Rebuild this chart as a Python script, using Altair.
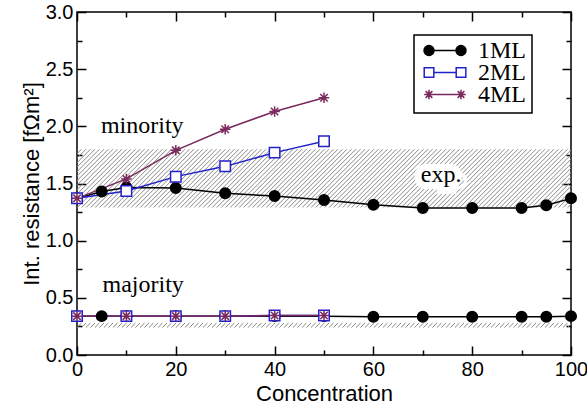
import altair as alt
import numpy as np
import pandas as pd

# ---------------- data ----------------
series_names = ["1ML", "2ML", "4ML"]

conc_1ml = [0, 5, 10, 20, 30, 40, 50, 60, 70, 80, 90, 95, 100]
minority_1ml = [1.37, 1.43, 1.465, 1.46, 1.415, 1.39, 1.355, 1.315, 1.285, 1.285, 1.285, 1.31, 1.37]
majority_1ml = [0.34, 0.34, 0.34, 0.34, 0.34, 0.34, 0.34, 0.335, 0.335, 0.335, 0.335, 0.335, 0.34]

conc_2ml = [0, 10, 20, 30, 40, 50]
minority_2ml = [1.37, 1.435, 1.56, 1.65, 1.77, 1.87]
majority_2ml = [0.34, 0.34, 0.34, 0.34, 0.345, 0.345]

conc_4ml = [0, 10, 20, 30, 40, 50]
minority_4ml = [1.37, 1.54, 1.79, 1.975, 2.13, 2.25]
majority_4ml = [0.34, 0.34, 0.34, 0.34, 0.345, 0.345]

# experimental ranges (hatched bands)
exp_band_names = ["minority", "majority"]
exp_band_low = [1.29, 0.24]
exp_band_high = [1.80, 0.28]

# annotations
ann_text = ["minority", "majority"]
ann_x = [13.2, 13.4]
ann_y = [2.0, 0.61]
exp_text = ["exp."]
exp_x = [73.7]
exp_y = [1.57]

x_major = [0, 20, 40, 60, 80, 100]
x_minor = [10, 30, 50, 70, 90]
y_major = [0.0, 0.5, 1.0, 1.5, 2.0, 2.5, 3.0]
y_minor = [0.25, 0.75, 1.25, 1.75, 2.25, 2.75]

# ---------------- styles ----------------
SANS = "Liberation Sans"
SERIF = "Liberation Serif"
line_colors = ["#000000", "#2222cc", "#7a2a5e"]
fill_colors = ["#000000", "#ffffff", "#7a2a5e"]
STAR = "M-1,0L1,0M0,-1L0,1M-0.71,-0.71L0.71,0.71M-0.71,0.71L0.71,-0.71"
W, H = 494, 343
MAJ, MIN = 9, 5
HATCH_STEP_PX = 4.5

# ---------------- tables ----------------
rows = []
for name, conc, mino, majo in [
    ("1ML", conc_1ml, minority_1ml, majority_1ml),
    ("2ML", conc_2ml, minority_2ml, majority_2ml),
    ("4ML", conc_4ml, minority_4ml, majority_4ml),
]:
    for c, v in zip(conc, mino):
        rows.append({"series": name, "spin": "minority", "conc": c, "R": v})
    for c, v in zip(conc, majo):
        rows.append({"series": name, "spin": "majority", "conc": c, "R": v})
df = pd.DataFrame(rows)

# hatch texture (45 degree lines clipped to the plot) built from band limits
px_x = W / 100.0
px_y = H / 3.0
hrows = []
for b, lo, hi in zip(exp_band_names, exp_band_low, exp_band_high):
    dx = (hi - lo) * px_y / px_x
    step = HATCH_STEP_PX / px_x
    for s in np.arange(-dx, 100 + step, step):
        hrows.append({"band": b, "x0": s, "x1": s + dx, "y0": lo, "y1": hi})
hatch_df = pd.DataFrame(hrows)

ann_df = pd.DataFrame({"text": ann_text, "x": ann_x, "y": ann_y})
exp_df = pd.DataFrame({"text": exp_text, "x": exp_x, "y": exp_y})

xscale = alt.Scale(domain=[0, 100], nice=False, zero=False)
yscale = alt.Scale(domain=[0, 3], nice=False, zero=False)

base_axis = dict(grid=False, domain=False, tickColor="black", tickWidth=1.5,
                 labelFont=SANS, labelFontSize=20, labelColor="black",
                 titleFont=SANS, titleFontSize=22, titleFontWeight="normal", titleColor="black",
                 labelOverlap=False, labelFlush=False)


def tick_axis(orient, values, size):
    return alt.Axis(orient=orient, values=values, labels=False, title=None,
                    tickSize=size, offset=-size, **base_axis)


x_bottom = alt.Axis(orient="bottom", values=x_major, format="d", tickSize=MAJ, offset=-MAJ,
                    labelPadding=4, title="Concentration", titlePadding=4, **base_axis)
y_left = alt.Axis(orient="left", values=y_major, format=".1f", tickSize=MAJ, offset=-MAJ,
                  labelPadding=4, title="Int. resistance [fΩm²]", titlePadding=2, **base_axis)

hatch = alt.Chart(hatch_df).mark_rule(clip=True, color="#8a8a8a", strokeWidth=1).encode(
    x=alt.X("x0:Q", scale=xscale, axis=x_bottom),
    x2="x1:Q",
    y=alt.Y("y0:Q", scale=yscale, axis=y_left),
    y2="y1:Q",
)

# legend symbols: line segment with a marker at each end (unit = 16 px)
P1 = ("M-0.7,0L0.7,0M-1.31,0A0.31,0.31,0,1,0,-0.69,0A0.31,0.31,0,1,0,-1.31,0Z"
      "M0.69,0A0.31,0.31,0,1,0,1.31,0A0.31,0.31,0,1,0,0.69,0Z")
P2 = ("M-0.7,0L0.7,0M-1.3,-0.3L-0.7,-0.3L-0.7,0.3L-1.3,0.3Z"
      "M0.7,-0.3L1.3,-0.3L1.3,0.3L0.7,0.3Z")
P3 = ("M-1,0L1,0M-1.3,0L-0.7,0M-1,-0.3L-1,0.3M-1.21,-0.21L-0.79,0.21M-1.21,0.21L-0.79,-0.21"
      "M0.7,0L1.3,0M1,-0.3L1,0.3M0.79,-0.21L1.21,0.21M0.79,0.21L1.21,-0.21")

legend = alt.Legend(
    title=None, orient="none", legendX=337, legendY=23,
    fillColor="white", strokeColor="black", padding=6,
    labelFont=SERIF, labelFontSize=24, labelColor="black",
    symbolSize=1024, symbolStrokeWidth=1.5, symbolFillColor="white", symbolOpacity=1,
    clipHeight=19, rowPadding=-4, labelOffset=16, symbolOffset=8,
)

lines = alt.Chart(df).mark_line(strokeWidth=1.5).encode(
    x=alt.X("conc:Q", scale=xscale, axis=tick_axis("top", x_major, MAJ)),
    y=alt.Y("R:Q", scale=yscale, axis=tick_axis("right", y_major, MAJ)),
    color=alt.Color("series:N", scale=alt.Scale(domain=series_names, range=line_colors), legend=None),
    detail="spin:N",
    order="conc:Q",
)

points = alt.Chart(df).mark_point(size=110, strokeWidth=1.5, opacity=1, filled=False).encode(
    x=alt.X("conc:Q", scale=xscale, axis=tick_axis("top", x_minor, MIN)),
    y=alt.Y("R:Q", scale=yscale, axis=tick_axis("right", y_minor, MIN)),
    shape=alt.Shape("series:N", scale=alt.Scale(domain=series_names, range=["circle", "square", STAR]), legend=None),
    stroke=alt.Stroke("series:N", scale=alt.Scale(domain=series_names, range=line_colors), legend=None),
    fill=alt.Fill("series:N", scale=alt.Scale(domain=series_names, range=fill_colors), legend=None),
)

# layer that only carries the legend (its data is filtered out)
legend_layer = alt.Chart(df).transform_filter("datum.conc < 0").mark_point(
    size=1024, strokeWidth=1.5, filled=True, opacity=1
).encode(
    x=alt.X("conc:Q", scale=xscale, axis=None),
    y=alt.Y("R:Q", scale=yscale, axis=None),
    shape=alt.Shape("series:N", scale=alt.Scale(domain=series_names, range=[P1, P2, P3]), legend=legend),
    stroke=alt.Stroke("series:N", scale=alt.Scale(domain=series_names, range=line_colors), legend=legend),
    fill=alt.Fill("series:N", scale=alt.Scale(domain=series_names, range=fill_colors), legend=legend),
)

ann = alt.Chart(ann_df).mark_text(font=SERIF, fontSize=24, color="black", align="center", baseline="middle").encode(
    x=alt.X("x:Q", scale=xscale, axis=tick_axis("bottom", x_minor, MIN)),
    y=alt.Y("y:Q", scale=yscale, axis=tick_axis("left", y_minor, MIN)),
    text="text:N",
)

exp_halo = alt.Chart(exp_df).mark_text(font=SERIF, fontSize=24, fill="white", stroke="white", strokeWidth=14,
                                       align="center", baseline="middle").encode(
    x=alt.X("x:Q", scale=xscale, axis=None),
    y=alt.Y("y:Q", scale=yscale, axis=None),
    text="text:N",
)
exp_lbl = alt.Chart(exp_df).mark_text(font=SERIF, fontSize=24, color="black", align="center", baseline="middle").encode(
    x=alt.X("x:Q", scale=xscale, axis=None),
    y=alt.Y("y:Q", scale=yscale, axis=None),
    text="text:N",
)

chart = alt.layer(hatch, exp_halo, exp_lbl, ann, lines, points, legend_layer).resolve_axis(
    x="independent", y="independent"
).resolve_scale(shape="independent", stroke="independent", fill="independent").properties(
    width=W, height=H,
    autosize=alt.AutoSizeParams(type="none"),
    padding={"left": 77, "top": 12, "right": 16, "bottom": 58},
    background="white",
).configure_view(stroke="black", strokeWidth=1.5).configure_legend(strokeWidth=1.5)

chart.save("out.html", embed_options={"renderer": "svg", "actions": False})
